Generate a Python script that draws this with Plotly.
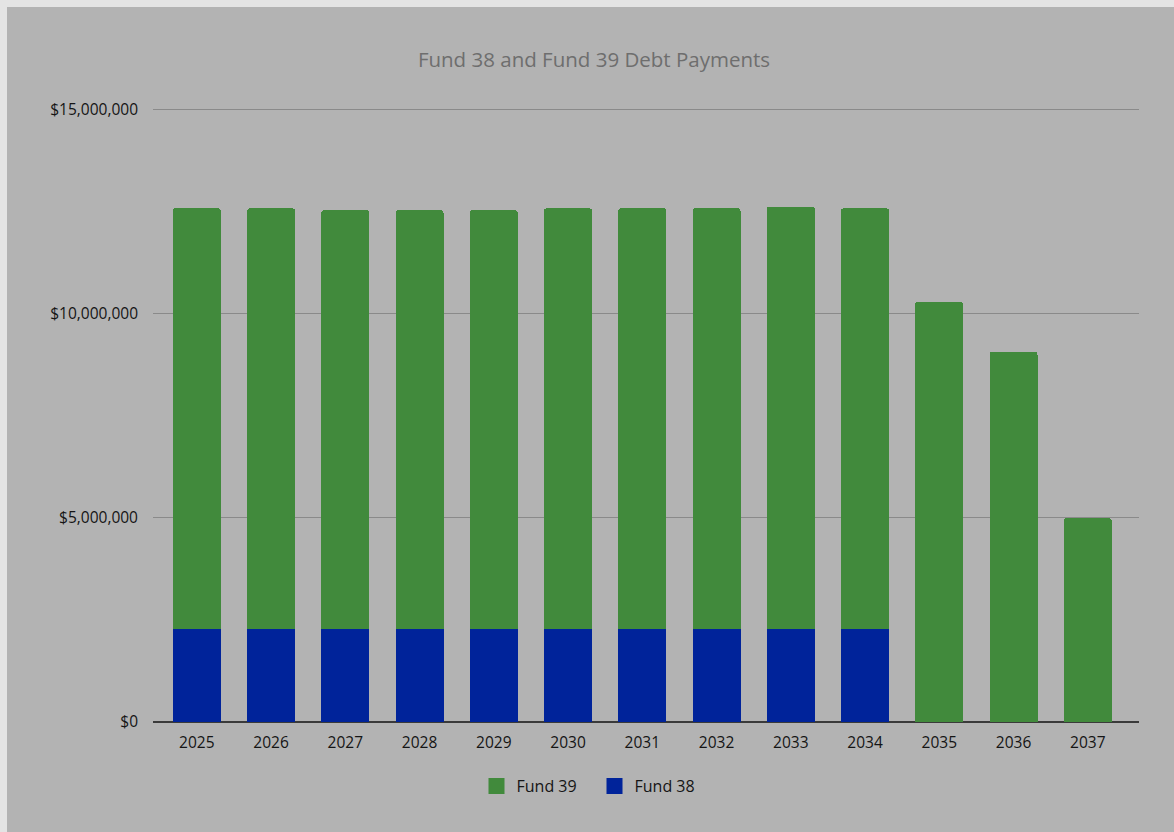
import plotly.graph_objects as go

# Annual debt payments by fund (USD)
years = ["2025", "2026", "2027", "2028", "2029", "2030", "2031",
         "2032", "2033", "2034", "2035", "2036", "2037"]
fund_38 = [2280000, 2280000, 2280000, 2280000, 2280000, 2280000, 2280000,
           2280000, 2280000, 2280000, 0, 0, 0]
fund_39 = [10300000, 10300000, 10250000, 10250000, 10250000, 10300000, 10300000,
           10300000, 10340000, 10300000, 10290000, 9070000, 4990000]
y_ticks = [0, 5000000, 10000000, 15000000]

GREEN = "#418a3c"
BLUE = "#00239a"
FONT = "Open Sans"
TEXT = "#151515"

fig = go.Figure()
fig.add_trace(go.Bar(x=years, y=fund_38, name="Fund 38", showlegend=False,
                     marker=dict(color=BLUE, line=dict(width=0))))
fig.add_trace(go.Bar(x=years, y=fund_39, name="Fund 39", showlegend=False,
                     marker=dict(color=GREEN, line=dict(width=0))))

# square legend swatches
fig.add_trace(go.Scatter(x=[None], y=[None], mode="markers", name="Fund 38",
                         marker=dict(symbol="square", size=17, color=BLUE, line=dict(width=0))))
fig.add_trace(go.Scatter(x=[None], y=[None], mode="markers", name="Fund 39",
                         marker=dict(symbol="square", size=17, color=GREEN, line=dict(width=0))))

W, H = 1174, 832
ml, mr, mt, mb = 153, 35, 89, 110
pw, ph = W - ml - mr, H - mt - mb

# chart card: light frame on the top and left edges
fig.add_shape(type="rect", xref="paper", yref="paper", layer="below",
              x0=(7 - ml) / pw, x1=(W - ml + 5) / pw,
              y0=-(mb + 5) / ph, y1=1 + (mt - 7) / ph,
              fillcolor="#b3b3b3", line=dict(width=0))

fig.update_layout(
    width=W, height=H,
    margin=dict(l=ml, r=mr, t=mt, b=mb, pad=0),
    paper_bgcolor="#e4e4e4",
    plot_bgcolor="rgba(0,0,0,0)",
    barmode="stack",
    bargap=0.354,
    barcornerradius=3,
    font=dict(family=FONT, color=TEXT, size=15),
    title=dict(text="Fund 38 and Fund 39 Debt Payments", x=594 / W, xanchor="center",
               y=1 - 60 / H, yanchor="middle",
               font=dict(family=FONT, size=20.5, color="#6e6e6e")),
    showlegend=True,
    legend=dict(orientation="h", traceorder="reversed", x=(594.5 - ml) / pw, xanchor="center",
                y=-64 / ph, yanchor="middle", bgcolor="rgba(0,0,0,0)",
                font=dict(family=FONT, size=16, color=TEXT), itemwidth=30,
                entrywidth=73),
    xaxis=dict(type="category", range=[-0.59, 12.69], showgrid=False, ticks="",
               showline=False, ticklabelstandoff=9, tickfont=dict(size=15.5, color=TEXT)),
    yaxis=dict(range=[0, 15500000], tickvals=y_ticks, tickformat="$,.0f",
               showgrid=True, gridcolor="#8a8a8a", gridwidth=1,
               zeroline=True, zerolinecolor="#3a3a3a", zerolinewidth=1.5,
               showline=False, ticks="", ticklabelstandoff=14,
               tickfont=dict(size=15.5, color=TEXT)),
)

fig.write_html("out.html")
